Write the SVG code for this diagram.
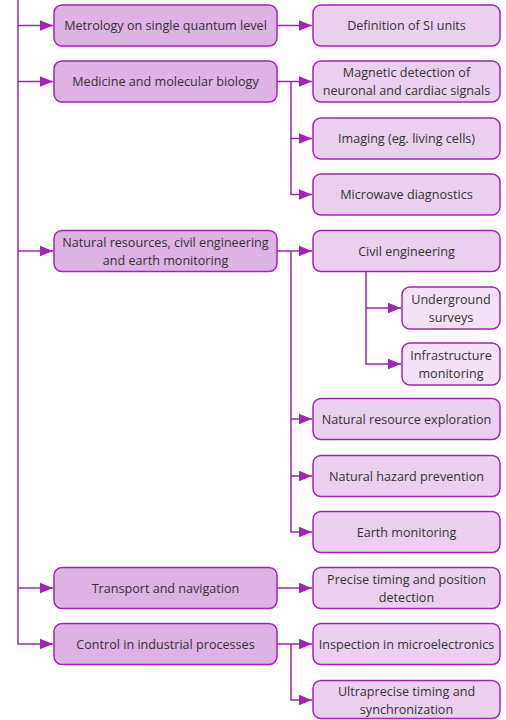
<svg xmlns="http://www.w3.org/2000/svg" width="506" height="720" viewBox="0 0 506 720">
<style>
.l1{fill:#dcb3e2;stroke:#a323b6;stroke-width:1.5}
.l2{fill:#ead0ee;stroke:#a323b6;stroke-width:1.5}
.l3{fill:#f3e2f6;stroke:#a323b6;stroke-width:1.5}
text{font-family:"Open Sans","Noto Sans",sans-serif;font-size:12.6px;fill:#333;text-anchor:middle}
.c path{fill:none;stroke:#a323b6;stroke-width:1.5}
</style>
<defs>
<marker id="a" markerUnits="userSpaceOnUse" markerWidth="14" markerHeight="12" refX="13" refY="6" orient="auto">
<path d="M0,0.8 L13,6 L0,11.2 Z" fill="#a323b6"/>
</marker>
</defs>
<g class="c">
<path d="M18,0 V644 H53" marker-end="url(#a)"/>
<path d="M18,25.5 H53" marker-end="url(#a)"/>
<path d="M18,81.5 H53" marker-end="url(#a)"/>
<path d="M18,251 H53" marker-end="url(#a)"/>
<path d="M18,588 H53" marker-end="url(#a)"/>
<path d="M277,25.5 H312" marker-end="url(#a)"/>
<path d="M277,81.5 H312" marker-end="url(#a)"/>
<path d="M291,81.5 V138.5 H312" marker-end="url(#a)"/>
<path d="M291,138.5 V194.5 H312" marker-end="url(#a)"/>
<path d="M277,251 H312" marker-end="url(#a)"/>
<path d="M291,251 V419 H312" marker-end="url(#a)"/>
<path d="M291,419 V476 H312" marker-end="url(#a)"/>
<path d="M291,476 V532 H312" marker-end="url(#a)"/>
<path d="M366,272 V308 H401" marker-end="url(#a)"/>
<path d="M366,308 V364 H401" marker-end="url(#a)"/>
<path d="M277,588 H312" marker-end="url(#a)"/>
<path d="M277,644 H312" marker-end="url(#a)"/>
<path d="M291,644 V700 H312" marker-end="url(#a)"/>
</g>
<g id="n1"><rect class="l1" x="54" y="5" width="223" height="41" rx="8"/><text x="165.5" y="30">Metrology on single quantum level</text></g>
<g id="n2"><rect class="l1" x="54" y="61" width="223" height="41" rx="8"/><text x="165.5" y="86">Medicine and molecular biology</text></g>
<g id="n3"><rect class="l1" x="54" y="230.5" width="223" height="41" rx="8"/><text x="165.5" y="246.5">Natural resources, civil engineering</text><text x="165.5" y="264.5">and earth monitoring</text></g>
<g id="n4"><rect class="l1" x="54" y="567.5" width="223" height="41" rx="8"/><text x="165.5" y="592.5">Transport and navigation</text></g>
<g id="n5"><rect class="l1" x="54" y="623.5" width="223" height="41" rx="8"/><text x="165.5" y="648.5">Control in industrial processes</text></g>
<g id="m1"><rect class="l2" x="313" y="5" width="187" height="41" rx="8"/><text x="406.5" y="30">Definition of SI units</text></g>
<g id="m2"><rect class="l2" x="313" y="61" width="187" height="41" rx="8"/><text x="406.5" y="77">Magnetic detection of</text><text x="406.5" y="95">neuronal and cardiac signals</text></g>
<g id="m3"><rect class="l2" x="313" y="118" width="187" height="41" rx="8"/><text x="406.5" y="143">Imaging (eg. living cells)</text></g>
<g id="m4"><rect class="l2" x="313" y="174" width="187" height="41" rx="8"/><text x="406.5" y="199">Microwave diagnostics</text></g>
<g id="m5"><rect class="l2" x="313" y="230.5" width="187" height="41" rx="8"/><text x="406.5" y="255.5">Civil engineering</text></g>
<g id="s1"><rect class="l3" x="402" y="287" width="98" height="42" rx="8"/><text x="451" y="303.5">Underground</text><text x="451" y="321.5">surveys</text></g>
<g id="s2"><rect class="l3" x="402" y="343" width="98" height="42" rx="8"/><text x="451" y="359.5">Infrastructure</text><text x="451" y="377.5">monitoring</text></g>
<g id="m6"><rect class="l2" x="313" y="398.5" width="187" height="41" rx="8"/><text x="406.5" y="423.5">Natural resource exploration</text></g>
<g id="m7"><rect class="l2" x="313" y="455.5" width="187" height="41" rx="8"/><text x="406.5" y="480.5">Natural hazard prevention</text></g>
<g id="m8"><rect class="l2" x="313" y="511.5" width="187" height="41" rx="8"/><text x="406.5" y="536.5">Earth monitoring</text></g>
<g id="m9"><rect class="l2" x="313" y="567.5" width="187" height="41" rx="8"/><text x="406.5" y="583.5">Precise timing and position</text><text x="406.5" y="601.5">detection</text></g>
<g id="m10"><rect class="l2" x="313" y="623.5" width="187" height="41" rx="8"/><text x="406.5" y="648.5">Inspection in microelectronics</text></g>
<g id="m11"><rect class="l2" x="313" y="680.5" width="187" height="38" rx="8"/><text x="406.5" y="695.5">Ultraprecise timing and</text><text x="406.5" y="713.5">synchronization</text></g>
</svg>
